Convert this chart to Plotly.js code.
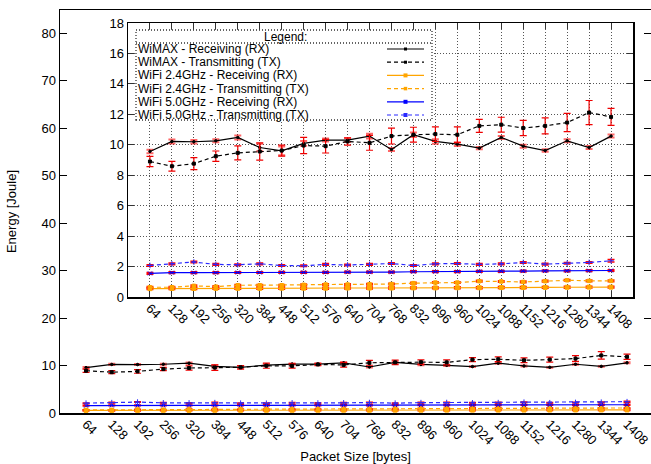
<!DOCTYPE html>
<html>
<head>
<meta charset="utf-8">
<script src="https://cdn.plot.ly/plotly-3.0.1.min.js"></script>
<style>
  html, body { margin: 0; padding: 0; background: #fff; }
  #chart { width: 651px; height: 464px; }
</style>
</head>
<body>
<div id="chart"></div>
<script>
// Packet sizes (bytes) used as categories on both plots
const packetSizes = ['64','128','192','256','320','384','448','512','576','640','704',
                     '768','832','896','960','1024','1088','1152','1216','1280','1344','1408'];

// Energy (Joule) per technology and direction
const wimaxRx    = [9.56,10.22,10.20,10.26,10.48,9.82,9.60,10.09,10.31,10.31,10.57,
                    9.69,10.66,10.22,10.04,9.78,10.48,9.91,9.62,10.26,9.82,10.57];
const wimaxRxErr = [0.12,0.13,0.12,0.10,0.13,0.25,0.28,0.15,0.10,0.12,0.15,
                    0.10,0.15,0.15,0.12,0.08,0.10,0.10,0.08,0.10,0.10,0.10];
const wimaxTx    = [8.90,8.59,8.76,9.25,9.47,9.56,9.62,9.95,9.91,10.22,10.13,
                    10.57,10.66,10.70,10.66,11.24,11.32,11.10,11.24,11.46,12.12,11.83];
const wimaxTxErr = [0.34,0.32,0.39,0.34,0.46,0.57,0.36,0.53,0.45,0.24,0.49,
                    0.52,0.49,0.47,0.52,0.43,0.49,0.50,0.53,0.60,0.79,0.56];
const wifi24Rx    = [0.55,0.56,0.56,0.57,0.57,0.57,0.58,0.58,0.58,0.59,0.59,
                     0.59,0.60,0.60,0.61,0.61,0.62,0.62,0.63,0.64,0.65,0.65];
const wifi24RxErr = [0.04,0.04,0.04,0.04,0.04,0.04,0.04,0.04,0.04,0.04,0.04,
                     0.04,0.04,0.04,0.04,0.04,0.04,0.04,0.04,0.04,0.04,0.04];
const wifi24Tx    = [0.64,0.64,0.73,0.68,0.77,0.77,0.77,0.80,0.82,0.82,0.84,
                     0.85,0.91,0.95,0.95,1.04,1.02,0.99,1.04,1.10,1.06,1.06];
const wifi24TxErr = [0.05,0.05,0.05,0.05,0.05,0.05,0.05,0.05,0.05,0.05,0.05,
                     0.05,0.05,0.05,0.05,0.05,0.05,0.05,0.05,0.05,0.05,0.05];
const wifi5Rx    = [1.55,1.60,1.60,1.60,1.61,1.61,1.62,1.62,1.62,1.63,1.63,
                    1.63,1.66,1.66,1.67,1.68,1.69,1.70,1.71,1.72,1.73,1.74];
const wifi5RxErr = [0.04,0.04,0.04,0.04,0.04,0.04,0.04,0.04,0.04,0.04,0.04,
                    0.04,0.04,0.04,0.04,0.04,0.04,0.04,0.04,0.04,0.04,0.04];
const wifi5Tx    = [2.07,2.18,2.30,2.14,2.12,2.18,2.07,2.05,2.14,2.10,2.14,
                    2.20,2.07,2.18,2.20,2.14,2.18,2.27,2.16,2.22,2.27,2.38];
const wifi5TxErr = [0.05,0.05,0.05,0.05,0.05,0.05,0.05,0.05,0.05,0.05,0.05,
                    0.05,0.05,0.05,0.05,0.05,0.05,0.05,0.05,0.05,0.05,0.08];

const seriesNames = ['WiMAX - Receiving (RX)', 'WiMAX - Transmitting (TX)',
                     'WiFi 2.4GHz - Receiving (RX)', 'WiFi 2.4GHz - Transmitting (TX)',
                     'WiFi 5.0GHz - Receiving (RX)', 'WiFi 5.0GHz - Transmitting (TX)'];

const FONT = 'Liberation Sans, Arial, Helvetica, sans-serif';
const DASH = '4px,3px';

// per-series styling
const styles = [
  { y: wimaxRx,  e: wimaxRxErr,  color: '#000000', dash: false, sym: 'circle', size: 2.5, errColor: 'rgba(255,0,0,0.6)', errW: 2 },
  { y: wimaxTx,  e: wimaxTxErr,  color: '#000000', dash: true,  sym: 'square', size: 3,   errColor: '#ee0000', errW: 1.2 },
  { y: wifi24Rx, e: wifi24RxErr, color: '#ffa500', dash: false, sym: 'square', size: 4,   errColor: '#ff0000', errW: 2.2 },
  { y: wifi24Tx, e: wifi24TxErr, color: '#ffa500', dash: true,  sym: 'square', size: 3.5, errColor: '#ff3000', errW: 1.6 },
  { y: wifi5Rx,  e: wifi5RxErr,  color: '#0000ff', dash: false, sym: 'x-thin-open', size: 4, errColor: '#ff0000', errW: 2 },
  { y: wifi5Tx,  e: wifi5TxErr,  color: '#2a2aff', dash: true,  sym: 'cross-thin-open', size: 4, errColor: '#ff0000', errW: 1.6 }
];

function makeTraces(xa, ya) {
  return styles.map((s, i) => ({
    type: 'scatter',
    mode: 'lines+markers',
    name: seriesNames[i],
    x: packetSizes,
    y: s.y,
    xaxis: xa, yaxis: ya,
    line: { color: s.color, width: 1.2, dash: s.dash ? DASH : 'solid' },
    marker: { symbol: s.sym, size: s.size, color: s.color, line: { color: s.color, width: 1 } },
    error_y: { type: 'data', array: s.e, visible: true, color: s.errColor, thickness: s.errW, width: 3.5 },
    showlegend: false,
    hoverinfo: 'skip'
  }));
}

const data = makeTraces('x', 'y').concat(makeTraces('x2', 'y2'));

// plot-area pixel helpers for the legend block drawn inside the inset
const L = 60, W = 591, B = 413, H = 403;
const px = v => (v - L) / W;
const py = v => (B - v) / H;

const shapes = [];
const annotations = [];
const legendFont = { family: FONT, size: 12, color: '#000' };

// legend box and title separator
shapes.push({ type: 'rect', xref: 'paper', yref: 'paper', layer: 'above',
  x0: px(136), x1: px(432), y0: py(120), y1: py(30),
  fillcolor: '#ffffff', line: { color: '#333', width: 1.3, dash: '1px,2px' } });
shapes.push({ type: 'line', xref: 'paper', yref: 'paper', layer: 'above',
  x0: px(136), x1: px(432), y0: py(43), y1: py(43),
  line: { color: '#333', width: 1.3, dash: '1px,2px' } });
annotations.push({ xref: 'paper', yref: 'paper', x: px(308), y: py(37),
  xanchor: 'right', yanchor: 'middle', showarrow: false, text: 'Legend:',
  borderpad: 0, font: legendFont });

// legend rows: label on the left, line sample on the right
const rowY = [49, 62.2, 75.4, 88.6, 101.8, 115];
styles.forEach((s, i) => {
  const yy = py(rowY[i]);
  annotations.push({ xref: 'paper', yref: 'paper', x: px(137), y: yy,
    xanchor: 'left', yanchor: 'middle', showarrow: false, text: seriesNames[i],
    borderpad: 0, font: legendFont });
  shapes.push({ type: 'line', xref: 'paper', yref: 'paper', layer: 'above',
    x0: px(387), x1: px(424), y0: yy, y1: yy,
    line: { color: s.color, width: 1.2, dash: s.dash ? DASH : 'solid' } });
  const h = Math.max(1.5, s.size / 2);
  shapes.push({ type: 'rect', xref: 'paper', yref: 'paper', layer: 'above',
    x0: px(405.5 - h), x1: px(405.5 + h), y0: py(rowY[i] + h), y1: py(rowY[i] - h),
    fillcolor: s.color, line: { width: 0 } });
});

const tickFont = { family: FONT, size: 13, color: '#000' };
const GRID = '#555';

const layout = {
  width: 651, height: 464,
  margin: { l: 60, r: 0, t: 10, b: 51 },
  paper_bgcolor: '#ffffff',
  plot_bgcolor: '#ffffff',
  font: { family: FONT, size: 13, color: '#000' },
  showlegend: false,
  xaxis: {
    type: 'category', range: [-1.01, 21.93],
    showline: true, linecolor: '#000', linewidth: 1.5, mirror: true,
    ticks: '', showgrid: false, zeroline: false,
    tickangle: 45, tickfont: tickFont, ticklabelstandoff: -3,
    title: { text: 'Packet Size [bytes]', font: { family: FONT, size: 13 }, standoff: 8 }
  },
  yaxis: {
    range: [0, 84.85], dtick: 10,
    showline: true, linecolor: '#000', linewidth: 1.5, mirror: 'ticks',
    ticks: 'inside', ticklen: 7, tickcolor: '#000', tickwidth: 1,
    showgrid: false, zeroline: false, tickfont: tickFont,
    title: { text: 'Energy [Joule]', font: { family: FONT, size: 13 }, standoff: 22 }
  },
  xaxis2: {
    anchor: 'y2', domain: [px(128), px(633)],
    type: 'category', range: [-1, 22],
    showline: true, linecolor: '#000', linewidth: 1.5, mirror: 'ticks',
    ticks: 'inside', ticklen: 6, tickcolor: '#333', tickwidth: 1,
    showgrid: true, gridcolor: GRID, griddash: '1px,2px', gridwidth: 1,
    zeroline: false, tickangle: 45, tickfont: tickFont, ticklabelstandoff: -3
  },
  yaxis2: {
    anchor: 'x2', domain: [py(297), py(23)],
    range: [0, 18], dtick: 2,
    showline: true, linecolor: '#000', linewidth: 1.5, mirror: 'ticks',
    ticks: 'inside', ticklen: 6, tickcolor: '#333', tickwidth: 1,
    showgrid: true, gridcolor: GRID, griddash: '1px,2px', gridwidth: 1,
    zeroline: false, tickfont: tickFont
  },
  shapes: shapes,
  annotations: annotations
};

Plotly.newPlot('chart', data, layout, { staticPlot: true, displayModeBar: false });
</script>
</body>
</html>
